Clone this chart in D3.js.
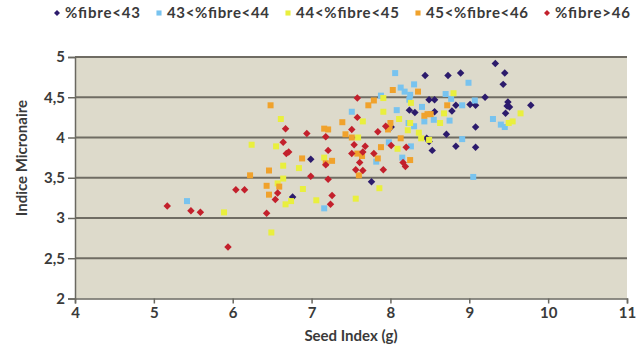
<!DOCTYPE html>
<html>
<head>
<meta charset="utf-8">
<script src="https://cdn.jsdelivr.net/npm/d3@7"></script>
<style>
  body { margin: 0; background: #fff; }
  text { font-family: Lato, "Open Sans", sans-serif; font-weight: 700; fill: #3a3a3a; }
</style>
</head>
<body>
<script>
// series names (legend)
const seriesNames = ['%fibre<43', '43<%fibre<44', '44<%fibre<45', '45<%fibre<46', '%fibre>46'];

// %fibre<43
const f43x = [6.99, 6.76, 7.76, 8.31, 8.24, 8.49, 8.56, 8.83, 9.01, 9.08, 8.56, 8.78, 8.01, 9.08, 8.71, 8.46,
  8.49, 8.53, 8.83, 9.08, 9.33, 8.73, 8.89, 9.45, 9.43, 9.20, 9.49, 9.48, 9.51, 9.78, 9.46, 8.44];
const f43y = [3.73, 3.26, 3.45, 4.31, 4.34, 4.47, 4.47, 4.40, 4.41, 4.40, 4.32, 4.33, 4.13, 4.13, 4.04, 3.99,
  3.95, 3.84, 3.89, 3.88, 4.92, 4.77, 4.80, 4.80, 4.66, 4.50, 4.44, 4.39, 4.38, 4.40, 4.30, 4.77];

// 43<%fibre<44
const f44x = [5.42, 8.13, 8.30, 8.18, 8.25, 8.99, 7.88, 8.24, 8.70, 8.77, 8.91, 9.07, 8.40, 7.51, 8.08, 8.43,
  8.55, 8.75, 8.23, 8.30, 8.91, 7.98, 8.26, 7.82, 8.15, 9.05, 7.16, 8.06, 9.30, 9.40, 9.45];
const f44y = [3.21, 4.62, 4.66, 4.57, 4.53, 4.68, 4.52, 4.47, 4.54, 4.48, 4.40, 4.46, 4.38, 4.32, 4.34, 4.20,
  4.22, 4.21, 4.18, 4.14, 3.98, 3.94, 3.89, 3.70, 3.75, 3.51, 3.12, 4.80, 4.23, 4.16, 4.13];

// 44<%fibre<45
const f45x = [6.64, 6.84, 6.64, 6.57, 6.89, 6.74, 6.67, 7.06, 5.89, 6.49, 6.61, 6.24, 6.55, 7.16, 7.91, 8.26,
  8.80, 8.68, 7.91, 8.63, 7.65, 8.11, 8.25, 8.22, 7.59, 8.36, 8.39, 8.49, 8.09, 7.86, 7.56, 9.65, 9.55, 9.50];
const f45y = [3.65, 3.62, 3.49, 3.43, 3.36, 3.21, 3.17, 3.22, 3.07, 2.82, 4.23, 3.91, 3.89, 3.75, 4.49, 4.43,
  4.55, 4.30, 4.32, 4.18, 4.20, 4.23, 4.18, 4.09, 4.00, 4.06, 3.99, 3.97, 3.86, 3.37, 3.24, 4.30, 4.20, 4.18];

// 45<%fibre<46
const f46x = [6.88, 6.22, 6.46, 6.43, 6.59, 6.46, 6.48, 7.16, 7.21, 7.39, 7.43, 7.26, 7.18, 8.03, 8.35, 7.79,
  7.72, 8.72, 8.47, 8.51, 8.43, 8.00, 7.99, 7.97, 7.51, 8.13, 7.88, 7.58, 7.64, 7.84, 8.25, 7.60];
const f46y = [3.74, 3.53, 3.59, 3.40, 3.39, 3.29, 4.40, 4.11, 4.10, 4.19, 4.04, 3.71, 3.68, 4.59, 4.57, 4.46,
  4.40, 4.40, 4.29, 4.29, 4.27, 4.18, 4.13, 4.10, 4.00, 3.99, 3.88, 3.80, 3.77, 3.74, 3.72, 3.53];

// %fibre>46
const f47x = [6.68, 6.71, 6.99, 6.04, 6.15, 6.57, 6.54, 5.17, 5.47, 5.59, 6.43, 5.94, 6.67, 6.94, 7.18, 6.64,
  7.21, 7.18, 7.21, 7.26, 7.58, 7.58, 7.94, 7.51, 7.84, 7.54, 8.01, 8.20, 7.68, 7.65, 7.51, 7.79, 7.61, 8.16,
  8.19, 7.91, 7.56, 7.65, 7.24];
const f47y = [3.80, 3.82, 3.52, 3.35, 3.35, 3.31, 3.23, 3.15, 3.09, 3.07, 3.06, 2.64, 4.11, 4.05, 4.01, 3.94,
  3.84, 3.66, 3.48, 3.28, 4.49, 4.25, 4.14, 4.10, 4.07, 3.91, 3.90, 3.88, 3.89, 3.82, 3.80, 3.80, 3.69, 3.69,
  3.64, 3.60, 3.60, 3.59, 3.17];

const xTicks = [4, 5, 6, 7, 8, 9, 10, 11];
const yTicks = [2, 2.5, 3, 3.5, 4, 4.5, 5];

const colors = ['#2c1b6c', '#78c3ef', '#e9ef3e', '#f0a22c', '#c3202c'];
const shapes = ['diamond', 'square', 'square', 'square', 'diamond'];

const series = [
  { x: f43x, y: f43y }, { x: f44x, y: f44y }, { x: f45x, y: f45y },
  { x: f46x, y: f46y }, { x: f47x, y: f47y }
];

var W = 639, H = 347;
var margin = { top: 57, right: 12, bottom: 48.5, left: 75 },
    width = W - margin.left - margin.right,
    height = H - margin.top - margin.bottom;

var svg = d3.select('body').append('svg')
    .attr('width', W)
    .attr('height', H);

var g = svg.append('g')
    .attr('transform', 'translate(' + margin.left + ',' + margin.top + ')');

var x = d3.scaleLinear().domain([4, 11]).range([0, width]);
var y = d3.scaleLinear().domain([2, 5]).range([height, 0]);

// plot background
g.append('rect')
    .attr('width', width)
    .attr('height', height)
    .attr('fill', '#dddacb');

// gridlines
g.append('g')
    .selectAll('line')
    .data(yTicks.slice(1))
    .enter()
    .append('line')
    .attr('x1', 0)
    .attr('x2', width)
    .attr('y1', d => y(d))
    .attr('y2', d => y(d))
    .attr('stroke', '#6f6c63')
    .attr('stroke-width', 1.8);

var fmt = d => String(d).replace('.', ',');

var xAxis = g.append('g')
    .attr('transform', 'translate(0,' + height + ')')
    .call(d3.axisBottom(x).tickValues(xTicks).tickFormat(fmt).tickSize(5).tickPadding(4));
var yAxis = g.append('g')
    .call(d3.axisLeft(y).tickValues(yTicks).tickFormat(fmt).tickSize(7).tickPadding(3));

[xAxis, yAxis].forEach(a => {
    a.selectAll('path, line').attr('stroke', '#6a6860').attr('stroke-width', 1.5);
    a.selectAll('text').style('font-size', '15px').attr('fill', '#3a3a3a');
    a.attr('font-family', null).attr('font-size', null);
});

function symbolPath(s) {
    return d3.symbol().type(d3.symbolSquare).size(s)();
}

// points
series.forEach((sr, i) => {
    g.append('g')
        .selectAll('path')
        .data(sr.x.map((v, j) => [v, sr.y[j]]))
        .enter()
        .append('path')
        .attr('d', symbolPath(shapes[i] === 'diamond' ? 28 : 36))
        .attr('transform', d => 'translate(' + x(d[0]) + ',' + y(d[1]) + ')' + (shapes[i] === 'diamond' ? ' rotate(45)' : ''))
        .attr('fill', colors[i]);
});

// axis titles
svg.append('text')
    .attr('x', margin.left + width / 2)
    .attr('y', 341)
    .attr('text-anchor', 'middle')
    .style('font-size', '15px')
    .text('Seed Index (g)');

svg.append('text')
    .attr('transform', 'translate(27,158) rotate(-90)')
    .attr('text-anchor', 'middle')
    .style('font-size', '15px')
    .text('Indice Micronaire');

// legend (text is stretched a bit, the original font is wider)
const legendWidths = [75, 102, 103, 102, 75];
var lx = 57;
var legend = svg.append('g');
seriesNames.forEach((name, i) => {
    legend.append('path')
        .attr('d', symbolPath(shapes[i] === 'diamond' ? 18 : 26))
        .attr('transform', 'translate(' + lx + ',13)' + (shapes[i] === 'diamond' ? ' rotate(45)' : ''))
        .attr('fill', colors[i]);
    legend.append('text')
        .attr('x', lx + 8)
        .attr('y', 18)
        .attr('textLength', legendWidths[i])
        .attr('lengthAdjust', 'spacing')
        .style('font-size', '15px')
        .text(name);
    lx += 8 + legendWidths[i] + 19;
});
</script>
</body>
</html>
